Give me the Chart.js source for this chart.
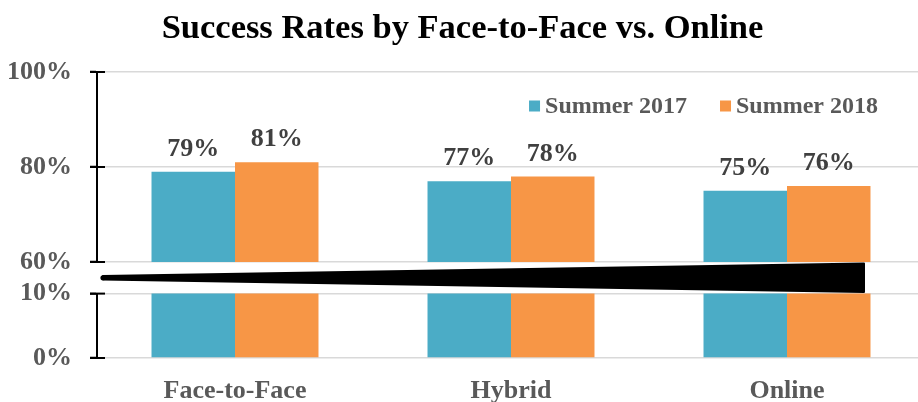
<!DOCTYPE html>
<html>
<head>
<meta charset="utf-8">
<title>Success Rates by Face-to-Face vs. Online</title>
<script src="https://cdn.jsdelivr.net/npm/chart.js@4.4.1/dist/chart.umd.min.js"></script>
<style>
  html, body { margin: 0; padding: 0; background: #fff; overflow: hidden; }
  #wrap { position: relative; width: 925px; height: 402px; }
  #chartTop { position: absolute; left: 0; top: 0; z-index: 2; }
  #chartBottom { position: absolute; left: 0; top: 260px; z-index: 1; }
</style>
</head>
<body>
<div id="wrap">
  <canvas id="chartTop" width="925" height="300"></canvas>
  <canvas id="chartBottom" width="925" height="142"></canvas>
</div>
<script>
// ----- datos -----
const categories = ["Face-to-Face", "Hybrid", "Online"];
const seriesNames = ["Summer 2017", "Summer 2018"];
const summer2017 = [79, 77, 75];
const summer2018 = [81, 78, 76];
const upperTicks = [60, 80, 100];
const lowerTicks = [0, 10];

const colors = ["rgb(75, 172, 198)", "rgb(247, 150, 70)"];
const serif = "'Liberation Serif', 'Times New Roman', serif";
const gray = "#595959";

Chart.defaults.font.family = serif;
Chart.defaults.font.weight = "bold";
Chart.defaults.color = gray;

const makeDatasets = () => [
  { label: seriesNames[0], data: summer2017, backgroundColor: colors[0] },
  { label: seriesNames[1], data: summer2018, backgroundColor: colors[1] },
];

// ticks that cross the axis line (Excel style)
const crossTicks = {
  id: "crossTicks",
  afterDraw(chart) {
    const y = chart.scales.y;
    const ctx = chart.ctx;
    ctx.save();
    ctx.strokeStyle = "#000";
    ctx.lineWidth = 2;
    y.ticks.forEach((t) => {
      const py = y.getPixelForValue(t.value);
      ctx.beginPath();
      ctx.moveTo(y.right - 7, py);
      ctx.lineTo(y.right + 8, py);
      ctx.stroke();
    });
    ctx.restore();
  },
};

// value labels above each bar
const barLabels = {
  id: "barLabels",
  afterDatasetsDraw(chart) {
    const ctx = chart.ctx;
    ctx.save();
    ctx.font = "bold 26px " + serif;
    ctx.fillStyle = "#404040";
    ctx.textAlign = "center";
    ctx.textBaseline = "alphabetic";
    chart.data.datasets.forEach((ds, i) => {
      chart.getDatasetMeta(i).data.forEach((bar, j) => {
        ctx.fillText(ds.data[j] + "%", bar.x, bar.y - 16);
      });
    });
    ctx.restore();
  },
};

// legend inside the plot, top right
const innerLegend = {
  id: "innerLegend",
  afterDraw(chart) {
    const ctx = chart.ctx;
    const area = chart.chartArea;
    const cy = area.top + 34;
    ctx.save();
    ctx.font = "bold 24px " + serif;
    ctx.textBaseline = "middle";
    ctx.textAlign = "left";
    let right = area.right - 47;
    const items = chart.data.datasets.slice().reverse();
    items.forEach((ds) => {
      const w = ctx.measureText(ds.label).width;
      const tx = right - w;
      ctx.fillStyle = gray;
      ctx.fillText(ds.label, tx, cy + 1);
      ctx.fillStyle = ds.backgroundColor;
      ctx.fillRect(tx - 16, cy - 5.5, 11, 11);
      right = tx - 16 - 33;
    });
    ctx.restore();
  },
};

// black wedge marking the axis break
const axisBreak = {
  id: "axisBreak",
  afterDraw(chart) {
    const ctx = chart.ctx;
    const area = chart.chartArea;
    const x0 = area.left + 6;
    const x1 = area.right - 61;
    const b = area.bottom;
    ctx.save();
    ctx.fillStyle = "#000";
    ctx.strokeStyle = "#000";
    ctx.lineJoin = "round";
    ctx.lineWidth = 2;
    ctx.beginPath();
    ctx.moveTo(x0, b + 14);
    ctx.lineTo(x1, b + 1.5);
    ctx.lineTo(x1, b + 30);
    ctx.lineTo(x0, b + 17.5);
    ctx.closePath();
    ctx.fill();
    ctx.stroke();
    ctx.beginPath();
    ctx.arc(x0, b + 15.75, 2.6, 0, Math.PI * 2);
    ctx.fill();
    ctx.restore();
  },
};

const yScale = (min, max, step) => ({
  min: min,
  max: max,
  afterFit(scale) {
    scale.width = 97;
  },
  border: { display: true, color: "#000", width: 2 },
  grid: { color: "#d9d9d9", lineWidth: 1.5, drawTicks: true, tickLength: 7, tickColor: "#000", tickWidth: 2 },
  ticks: {
    stepSize: step,
    padding: 18,
    color: gray,
    font: { size: 26, weight: "bold", family: serif },
    callback: (v) => v + "%",
  },
});

const barOptions = {
  categoryPercentage: 0.605,
  barPercentage: 1.0,
};

// ----- grafica superior (60% - 100%) -----
const chartTop = new Chart(document.getElementById("chartTop"), {
  type: "bar",
  data: { labels: categories, datasets: makeDatasets() },
  options: {
    responsive: false,
    animation: false,
    datasets: { bar: barOptions },
    layout: { padding: { left: 0, right: 0, top: 0, bottom: 38 } },
    plugins: {
      legend: { display: false },
      tooltip: { enabled: false },
      title: {
        display: true,
        text: "Success Rates by Face-to-Face vs. Online",
        color: "#000",
        font: { size: 34.5, weight: "bold", family: serif, lineHeight: 1.2 },
        padding: { top: 8, bottom: 22.6 },
      },
    },
    scales: {
      x: { display: false },
      y: yScale(upperTicks[0], upperTicks[upperTicks.length - 1], 20),
    },
  },
  plugins: [crossTicks, barLabels, innerLegend, axisBreak],
});

// ----- grafica inferior (0% - 10%) -----
const chartBottom = new Chart(document.getElementById("chartBottom"), {
  type: "bar",
  data: { labels: categories, datasets: makeDatasets() },
  options: {
    responsive: false,
    animation: false,
    datasets: { bar: barOptions },
    layout: { padding: { left: 0, right: 0, top: 22, bottom: 0 } },
    plugins: {
      legend: { display: false },
      tooltip: { enabled: false },
    },
    scales: {
      x: {
        afterFit(scale) {
          scale.height = 44;
        },
        border: { display: false },
        grid: { display: false, drawTicks: false },
        ticks: {
          padding: 18,
          color: gray,
          font: { size: 26, weight: "bold", family: serif },
        },
      },
      y: yScale(lowerTicks[0], lowerTicks[lowerTicks.length - 1], 10),
    },
  },
  plugins: [crossTicks],
});
</script>
</body>
</html>
